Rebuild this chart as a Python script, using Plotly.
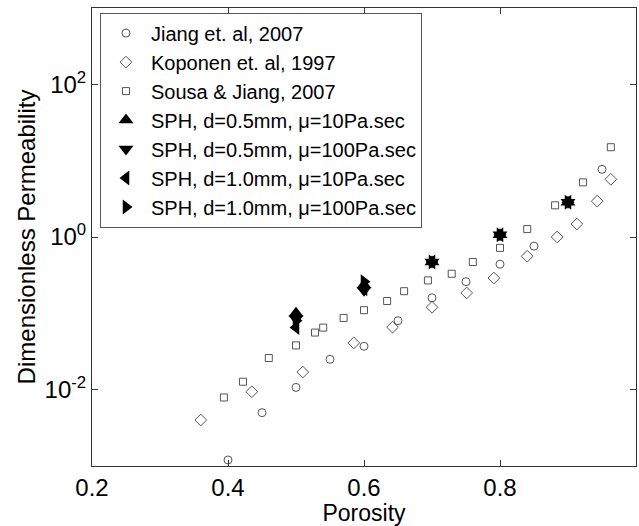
import plotly.graph_objects as go

# Jiang et al, 2007 (circles)
jiang_x = [0.40, 0.45, 0.50, 0.55, 0.60, 0.65, 0.70, 0.75, 0.80, 0.85, 0.95]
jiang_y = [0.0012, 0.005, 0.0107, 0.025, 0.037, 0.08, 0.16, 0.26, 0.44, 0.76, 7.7]

# Koponen et al, 1997 (diamonds)
kop_x = [0.36, 0.435, 0.51, 0.585, 0.642, 0.70, 0.751, 0.791, 0.84, 0.884, 0.913, 0.943, 0.963]
kop_y = [0.004, 0.0094, 0.017, 0.041, 0.066, 0.12, 0.185, 0.29, 0.56, 1.0, 1.48, 2.95, 5.7]

# Sousa & Jiang, 2007 (squares)
sousa_x = [0.394, 0.422, 0.46, 0.50, 0.528, 0.54, 0.57, 0.60, 0.634, 0.659, 0.694, 0.729,
           0.76, 0.80, 0.84, 0.881, 0.922, 0.963]
sousa_y = [0.0079, 0.0127, 0.026, 0.038, 0.056, 0.065, 0.087, 0.11, 0.145, 0.195, 0.27, 0.33,
           0.47, 0.72, 1.27, 2.6, 5.2, 15.0]

# SPH results
sph_x = [0.5, 0.6, 0.7, 0.8, 0.9]
sph_d05_mu10 = [0.10, 0.235, 0.47, 1.07, 2.86]
sph_d05_mu100 = [0.085, 0.20, 0.47, 1.07, 2.86]
sph_d10_mu10 = [0.065, 0.21, 0.47, 1.07, 2.86]
sph_d10_mu100 = [0.08, 0.26, 0.47, 1.07, 2.86]

y_tickvals = [1e-2, 1, 1e2]
y_ticktext = ["10<sup>-2</sup>", "10<sup>0</sup>", "10<sup>2</sup>"]
x_tickvals = [0.2, 0.4, 0.6, 0.8, 1.0]
x_ticktext = ["0.2", "0.4", "0.6", "0.8", "1"]

FONT = "Liberation Sans, Arial"
gray = "#555555"
fig = go.Figure()
fig.add_trace(go.Scatter(x=jiang_x, y=jiang_y, mode="markers", name="Jiang et. al, 2007",
                         marker=dict(symbol="circle-open", size=8, color=gray, line=dict(width=1, color=gray))))
fig.add_trace(go.Scatter(x=kop_x, y=kop_y, mode="markers", name="Koponen et. al, 1997",
                         marker=dict(symbol="diamond-open", size=9, color=gray, line=dict(width=1, color=gray))))
fig.add_trace(go.Scatter(x=sousa_x, y=sousa_y, mode="markers", name="Sousa &amp; Jiang, 2007",
                         marker=dict(symbol="square-open", size=7, color=gray, line=dict(width=1, color=gray))))
for name, vals, sym in [
    ("SPH, d=0.5mm, μ=10Pa.sec", sph_d05_mu10, "triangle-up"),
    ("SPH, d=0.5mm, μ=100Pa.sec", sph_d05_mu100, "triangle-down"),
    ("SPH, d=1.0mm, μ=10Pa.sec", sph_d10_mu10, "triangle-left"),
    ("SPH, d=1.0mm, μ=100Pa.sec", sph_d10_mu100, "triangle-right"),
]:
    fig.add_trace(go.Scatter(x=sph_x, y=vals, mode="markers", name=name,
                             marker=dict(symbol=sym, size=13, color="black")))

axis_common = dict(showline=True, linecolor="#333333", linewidth=1, mirror="ticks",
                   ticks="inside", ticklen=6, tickcolor="#333333", showgrid=False, zeroline=False,
                   tickfont=dict(family=FONT, size=24, color="black"))
fig.update_xaxes(range=[0.2, 1.0], tickvals=x_tickvals, ticktext=x_ticktext,
                 title=dict(text="Porosity", font=dict(family=FONT, size=23, color="black"), standoff=0),
                 **axis_common)
fig.update_yaxes(type="log", range=[-3, 3], tickvals=y_tickvals, ticktext=y_ticktext,
                 title=dict(text="Dimensionless Permeability", font=dict(family=FONT, size=24, color="black"), standoff=2),
                 **axis_common)
fig.update_layout(
    width=639, height=526,
    margin=dict(l=92, r=3, t=8, b=60),
    paper_bgcolor="white", plot_bgcolor="white",
    showlegend=True,
    legend=dict(x=0.0147, y=0.99, xanchor="left", yanchor="top",
                bgcolor="white", bordercolor="#555555", borderwidth=1,
                font=dict(family=FONT, size=20, color="black"),
                itemsizing="trace", itemwidth=40),
)
fig.write_html("out.html")
